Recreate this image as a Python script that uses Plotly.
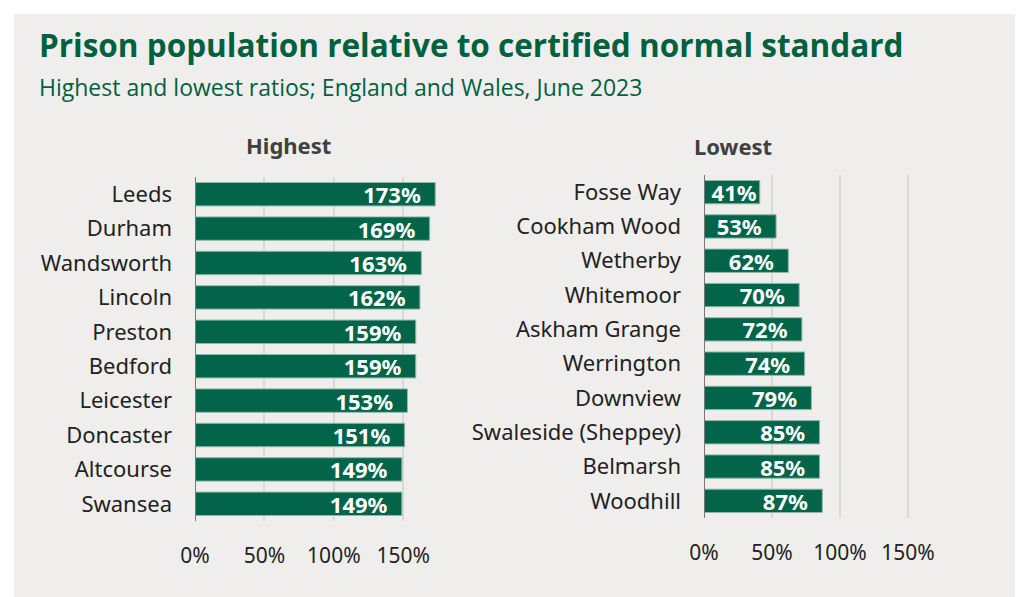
import plotly.graph_objects as go

high_names = ["Leeds", "Durham", "Wandsworth", "Lincoln", "Preston", "Bedford",
              "Leicester", "Doncaster", "Altcourse", "Swansea"]
high_vals = [173, 169, 163, 162, 159, 159, 153, 151, 149, 149]

low_names = ["Fosse Way", "Cookham Wood", "Wetherby", "Whitemoor", "Askham Grange",
             "Werrington", "Downview", "Swaleside (Sheppey)", "Belmarsh", "Woodhill"]
low_vals = [41, 53, 62, 70, 72, 74, 79, 85, 85, 87]

tick_vals = [0, 50, 100, 150]
tick_text = ["0%", "50%", "100%", "150%"]

GREEN = "#02654a"
W, H = 1018, 597
FONT = "Noto Sans"

fig = go.Figure()

def lab(v):
    pad = "\u00a0\u00a0" if v >= 50 else ""
    return f"{v}%" + pad

fig.add_trace(go.Bar(
    x=high_vals, y=high_names, orientation="h", xaxis="x", yaxis="y",
    marker=dict(color=GREEN, line=dict(color="#8fb8a8", width=1)),
    text=[lab(v) for v in high_vals], textposition="inside", insidetextanchor="end",
    constraintext="none",
    textfont=dict(color="white", size=22, family=FONT, weight="bold"),
    hoverinfo="skip", showlegend=False,
))
fig.add_trace(go.Bar(
    x=low_vals, y=low_names, orientation="h", xaxis="x2", yaxis="y2",
    marker=dict(color=GREEN, line=dict(color="#8fb8a8", width=1)),
    text=[lab(v) for v in low_vals], textposition="inside", insidetextanchor="end",
    constraintext="none",
    textfont=dict(color="white", size=22, family=FONT, weight="bold"),
    hoverinfo="skip", showlegend=False,
))

xcommon = dict(range=[0, 175], tickvals=tick_vals, ticktext=tick_text,
               showgrid=True, gridcolor="#d9d9d9", gridwidth=2, zeroline=False,
               showline=False, ticks="", ticklabelstandoff=20, automargin=False,
               tickfont=dict(family=FONT, size=21, color="#222222"), fixedrange=True)
ycommon = dict(autorange="reversed", showgrid=False, zeroline=False,
               showline=False, ticks="", ticklabelstandoff=22, automargin=False,
               tickfont=dict(family=FONT, size=22, color="#222222"), fixedrange=True)

fig.update_layout(
    width=W, height=H,
    margin=dict(l=0, r=0, t=0, b=0, autoexpand=False),
    paper_bgcolor="white", plot_bgcolor="rgba(0,0,0,0)",
    bargap=0.32,
    xaxis=dict(domain=[195 / W, 438 / W], anchor="y", **xcommon),
    yaxis=dict(domain=[1 - 521 / H, 1 - 177 / H], anchor="x", **ycommon),
    xaxis2=dict(domain=[704 / W, 942 / W], anchor="y2", **xcommon),
    yaxis2=dict(domain=[1 - 518 / H, 1 - 175 / H], anchor="x2", **ycommon),
)

# background panel
fig.add_shape(type="rect", xref="paper", yref="paper",
              x0=14 / W, x1=1015 / W, y0=0, y1=1 - 14 / H,
              fillcolor="#efeeec", line=dict(width=0), layer="below")
# zero axis lines
fig.add_shape(type="line", xref="x", yref="paper", x0=0, x1=0,
              y0=1 - 521 / H, y1=1 - 177 / H, line=dict(color="#777777", width=2))
fig.add_shape(type="line", xref="x2", yref="paper", x0=0, x1=0,
              y0=1 - 518 / H, y1=1 - 175 / H, line=dict(color="#777777", width=2))

fig.add_annotation(text="<b>Prison population relative to certified normal standard</b>",
                   xref="paper", yref="paper", x=37 / W, y=1 - 45 / H,
                   xanchor="left", yanchor="middle", showarrow=False,
                   font=dict(family="Open Sans", size=31.5, color="#00613f"))
fig.add_annotation(text="Highest and lowest ratios; England and Wales, June 2023",
                   xref="paper", yref="paper", x=37 / W, y=1 - 87 / H,
                   xanchor="left", yanchor="middle", showarrow=False,
                   font=dict(family="Open Sans", size=23, color="#00613f"))
fig.add_annotation(text="<b>Highest</b>", xref="paper", yref="paper",
                   x=288 / W, y=1 - 145 / H, xanchor="center", yanchor="middle",
                   showarrow=False, font=dict(family=FONT, size=22, color="#404040"))
fig.add_annotation(text="<b>Lowest</b>", xref="paper", yref="paper",
                   x=733 / W, y=1 - 146 / H, xanchor="center", yanchor="middle",
                   showarrow=False, font=dict(family=FONT, size=22, color="#404040"))

fig.write_html("out.html", config={"displayModeBar": False},
               post_script="document.body.style.margin='0';document.body.style.overflow='hidden';")
